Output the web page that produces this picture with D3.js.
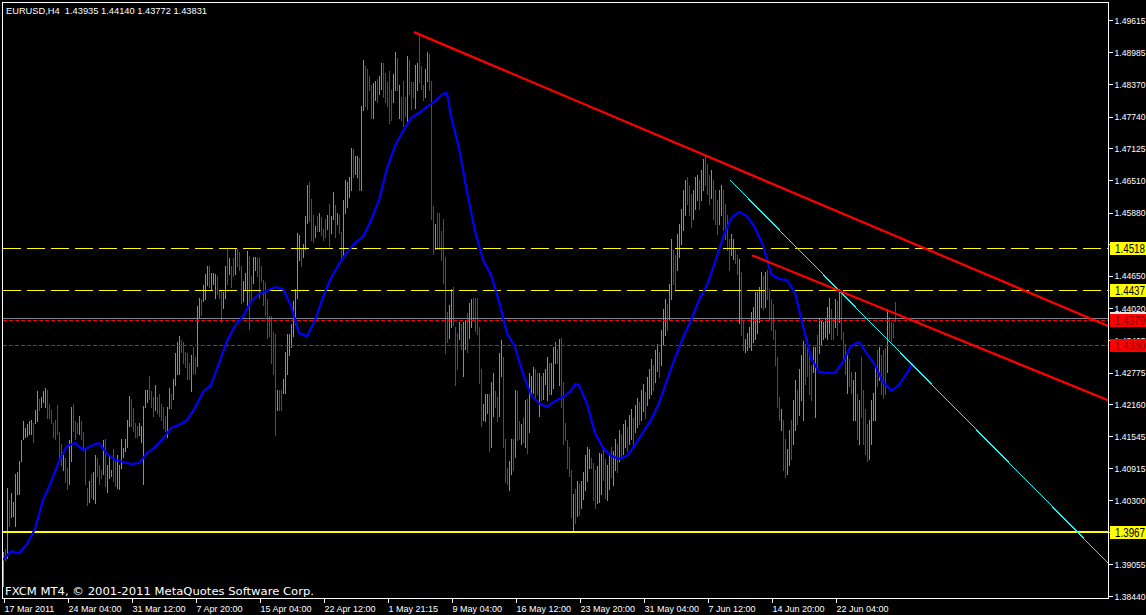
<!DOCTYPE html>
<html><head><meta charset="utf-8">
<script src="https://cdn.jsdelivr.net/npm/d3@7"></script>
<style>html,body{margin:0;padding:0;background:#000;}svg{display:block}</style>
</head><body>
<svg id="chart" width="1146" height="615"></svg>
<script>
// ---------- DATA (EURUSD H4) ----------
const symbolTitle = "EURUSD,H4  1.43935 1.44140 1.43772 1.43831";
const copyright = "FXCM MT4, \u00A9 2001-2011 MetaQuotes Software Corp.";

const highs = [
1.3929,1.3935,1.4053,1.4030,1.4042,1.4026,1.4079,1.4084,1.4105,1.4145,
1.4182,1.4168,1.4176,1.4182,1.4185,1.4178,1.4203,1.4241,1.4226,1.4230,
1.4241,1.4247,1.4243,1.4216,1.4203,1.4178,1.4185,1.4214,1.4162,1.4137,
1.4116,1.4110,1.4092,1.4145,1.4210,1.4216,1.4182,1.4178,1.4193,1.4182,
1.4162,1.4128,1.4053,1.4067,1.4080,1.4084,1.4116,1.4110,1.4098,1.4088,
1.4145,1.4147,1.4098,1.4116,1.4088,1.4128,1.4105,1.4116,1.4098,1.4147,
1.4130,1.4147,1.4185,1.4232,1.4226,1.4207,1.4178,1.4172,1.4178,1.4172,
1.4212,1.4243,1.4243,1.4269,1.4241,1.4230,1.4252,1.4230,1.4234,1.4216,
1.4209,1.4193,1.4209,1.4247,1.4234,1.4265,1.4314,1.4335,1.4348,1.4339,
1.4335,1.4317,1.4314,1.4296,1.4310,1.4327,1.4306,1.4405,1.4421,1.4419,
1.4446,1.4467,1.4484,1.4484,1.4469,1.4469,1.4467,1.4463,1.4436,1.4436,
1.4432,1.4484,1.4517,1.4498,1.4484,1.4498,1.4517,1.4517,1.4511,1.4484,
1.4455,1.4469,1.4513,1.4503,1.4463,1.4500,1.4500,1.4498,1.4500,1.4484,
1.4457,1.4453,1.4419,1.4387,1.4387,1.4356,1.4352,1.4243,1.4243,1.4243,
1.4265,1.4317,1.4352,1.4352,1.4371,1.4415,1.4438,1.4547,1.4543,1.4517,
1.4525,1.4581,1.4641,1.4647,1.4614,1.4583,1.4560,1.4581,1.4587,1.4578,
1.4556,1.4574,1.4583,1.4604,1.4581,1.4626,1.4601,1.4587,1.4583,1.4549,
1.4612,1.4651,1.4647,1.4656,1.4713,1.4711,1.4696,1.4696,1.4692,1.4794,
1.4882,1.4872,1.4865,1.4851,1.4834,1.4838,1.4843,1.4847,1.4851,1.4878,
1.4878,1.4857,1.4841,1.4861,1.4824,1.4855,1.4899,1.4886,1.4834,1.4812,
1.4843,1.4812,1.4890,1.4882,1.4841,1.4841,1.4874,1.4878,1.4934,1.4872,
1.4834,1.4865,1.4899,1.4895,1.4843,1.4599,1.4564,1.4587,1.4587,1.4552,
1.4574,1.4500,1.4394,1.4407,1.4438,1.4442,1.4365,1.4354,1.4375,1.4371,
1.4375,1.4379,1.4393,1.4411,1.4419,1.4421,1.4421,1.4421,1.4365,1.4283,
1.4216,1.4234,1.4234,1.4234,1.4259,1.4275,1.4241,1.4230,1.4314,1.4339,
1.4306,1.4147,1.4092,1.4105,1.4147,1.4147,1.4243,1.4241,1.4182,1.4176,
1.4189,1.4224,1.4226,1.4275,1.4269,1.4287,1.4283,1.4275,1.4275,1.4269,
1.4275,1.4283,1.4306,1.4296,1.4296,1.4327,1.4335,1.4323,1.4341,1.4344,
1.4259,1.4178,1.4145,1.4133,1.4088,1.4040,1.4050,1.4067,1.4061,1.4067,
1.4084,1.4116,1.4133,1.4128,1.4110,1.4102,1.4088,1.4096,1.4120,1.4118,
1.4128,1.4108,1.4098,1.4118,1.4132,1.4124,1.4147,1.4137,1.4166,1.4157,
1.4176,1.4185,1.4170,1.4195,1.4205,1.4189,1.4214,1.4228,1.4220,1.4243,
1.4254,1.4239,1.4267,1.4283,1.4302,1.4292,1.4321,1.4331,1.4317,1.4360,
1.4399,1.4419,1.4409,1.4448,1.4535,1.4515,1.4505,1.4545,1.4564,1.4593,
1.4631,1.4651,1.4655,1.4641,1.4622,1.4631,1.4655,1.4660,1.4651,1.4670,
1.4690,1.4696,1.4681,1.4660,1.4670,1.4651,1.4631,1.4612,1.4631,1.4641,
1.4631,1.4603,1.4583,1.4535,1.4545,1.4535,1.4515,1.4505,1.4496,1.4471,
1.4379,1.4341,1.4354,1.4365,1.4394,1.4403,1.4432,1.4432,1.4442,1.4471,
1.4463,1.4472,1.4476,1.4438,1.4419,1.4409,1.4360,1.4306,1.4230,1.4205,
1.4185,1.4147,1.4128,1.4166,1.4185,1.4224,1.4262,1.4243,1.4283,1.4311,
1.4337,1.4331,1.4341,1.4311,1.4292,1.4327,1.4327,1.4350,1.4383,1.4379,
1.4375,1.4383,1.4403,1.4422,1.4399,1.4383,1.4419,1.4415,1.4438,1.4432,
1.4356,1.4331,1.4315,1.4302,1.4277,1.4263,1.4277,1.4234,1.4224,1.4306,
1.4243,1.4205,1.4176,1.4185,1.4224,1.4237,1.4288,1.4321,1.4327,1.4311,
1.4321,1.4325,1.4399,1.4385,1.4375,1.4373,1.4414];

const lows = [
1.3862,1.3912,1.3916,1.3978,1.3996,1.3999,1.3978,1.4040,1.4040,1.4105,
1.4147,1.4151,1.4153,1.4158,1.4158,1.4141,1.4178,1.4182,1.4203,1.4209,
1.4220,1.4209,1.4189,1.4189,1.4178,1.4151,1.4147,1.4158,1.4110,1.4098,
1.4088,1.4065,1.4050,1.4061,1.4105,1.4164,1.4147,1.4160,1.4158,1.4147,
1.4130,1.4061,1.4019,1.4026,1.4036,1.4032,1.4023,1.4075,1.4061,1.4071,
1.4080,1.4057,1.4044,1.4071,1.4075,1.4067,1.4057,1.4053,1.4050,1.4092,
1.4112,1.4124,1.4133,1.4172,1.4172,1.4164,1.4151,1.4151,1.4155,1.4141,
1.4061,1.4209,1.4220,1.4226,1.4209,1.4193,1.4203,1.4199,1.4193,1.4185,
1.4168,1.4164,1.4151,1.4207,1.4207,1.4226,1.4252,1.4273,1.4273,1.4317,
1.4296,1.4287,1.4265,1.4265,1.4241,1.4275,1.4273,1.4290,1.4383,1.4389,
1.4415,1.4419,1.4446,1.4442,1.4436,1.4449,1.4421,1.4428,1.4421,1.4375,
1.4401,1.4421,1.4449,1.4467,1.4442,1.4463,1.4467,1.4484,1.4476,1.4411,
1.4415,1.4436,1.4407,1.4362,1.4415,1.4451,1.4476,1.4463,1.4421,1.4455,
1.4407,1.4387,1.4344,1.4348,1.4296,1.4273,1.4155,1.4203,1.4203,1.4203,
1.4237,1.4237,1.4273,1.4310,1.4327,1.4348,1.4371,1.4421,1.4494,1.4484,
1.4501,1.4517,1.4566,1.4570,1.4533,1.4530,1.4539,1.4552,1.4552,1.4543,
1.4533,1.4539,1.4556,1.4523,1.4547,1.4574,1.4539,1.4564,1.4547,1.4498,
1.4503,1.4587,1.4597,1.4618,1.4631,1.4656,1.4662,1.4656,1.4630,1.4630,
1.4785,1.4794,1.4788,1.4824,1.4771,1.4771,1.4806,1.4802,1.4816,1.4826,
1.4812,1.4802,1.4794,1.4760,1.4767,1.4802,1.4824,1.4824,1.4771,1.4767,
1.4754,1.4775,1.4760,1.4816,1.4788,1.4812,1.4790,1.4824,1.4841,1.4826,
1.4806,1.4812,1.4843,1.4824,1.4574,1.4507,1.4517,1.4517,1.4517,1.4494,
1.4451,1.4314,1.4335,1.4344,1.4365,1.4369,1.4252,1.4283,1.4341,1.4323,
1.4269,1.4323,1.4317,1.4344,1.4365,1.4379,1.4358,1.4352,1.4257,1.4172,
1.4185,1.4182,1.4199,1.4124,1.4133,1.4193,1.4210,1.4182,1.4193,1.4269,
1.4133,1.4065,1.4061,1.4048,1.4079,1.4088,1.4112,1.4145,1.4147,1.4137,
1.4141,1.4133,1.4120,1.4162,1.4237,1.4237,1.4224,1.4234,1.4193,1.4224,
1.4226,1.4255,1.4224,1.4234,1.4234,1.4247,1.4296,1.4296,1.4252,1.4210,
1.4137,1.4145,1.4092,1.4075,1.3996,1.3971,1.3984,1.3999,1.4001,1.4013,
1.4032,1.4048,1.4067,1.4092,1.4092,1.4030,1.4013,1.4023,1.4026,1.4040,
1.4069,1.4034,1.4030,1.4050,1.4073,1.4059,1.4088,1.4084,1.4104,1.4112,
1.4118,1.4132,1.4124,1.4137,1.4147,1.4137,1.4162,1.4170,1.4176,1.4185,
1.4201,1.4189,1.4214,1.4228,1.4234,1.4243,1.4259,1.4279,1.4267,1.4292,
1.4331,1.4350,1.4360,1.4379,1.4419,1.4448,1.4438,1.4476,1.4500,1.4525,
1.4554,1.4583,1.4603,1.4583,1.4558,1.4574,1.4593,1.4612,1.4593,1.4612,
1.4631,1.4641,1.4622,1.4603,1.4616,1.4574,1.4564,1.4545,1.4564,1.4583,
1.4554,1.4535,1.4515,1.4476,1.4505,1.4496,1.4490,1.4467,1.4373,1.4350,
1.4321,1.4317,1.4321,1.4327,1.4321,1.4335,1.4341,1.4354,1.4375,1.4404,
1.4399,1.4404,1.4419,1.4379,1.4360,1.4341,1.4292,1.4210,1.4185,1.4166,
1.4088,1.4073,1.4079,1.4098,1.4108,1.4137,1.4166,1.4176,1.4195,1.4224,
1.4185,1.4254,1.4269,1.4234,1.4224,1.4277,1.4191,1.4283,1.4315,1.4331,
1.4341,1.4346,1.4341,1.4354,1.4341,1.4341,1.4365,1.4350,1.4375,1.4341,
1.4302,1.4273,1.4237,1.4250,1.4237,1.4185,1.4185,1.4147,1.4137,1.4191,
1.4137,1.4118,1.4104,1.4108,1.4137,1.4185,1.4185,1.4250,1.4263,1.4234,
1.4228,1.4234,1.4277,1.4341,1.4337,1.4346,1.4377];

// U = up bar (close > open), D = down bar
const barDirs = ("UDUDUUUUUU UUUUUDUUDU UUDDDDDDDD UDDUUDDDUD DDDUDUUDDD " +
  "UDUUUDDUUU UUUUDDDDUU UUUDDDUDDD DDUUDUUUUD DDDDUDDUUD " +
  "UUUDUUUDDD UUDUDDUDDD UUUDDUUDDD DDDDDDDUDD UUUUUUUUUD " +
  "UUUDDDUDUD DDUDUUDUDD UUUUUDUUDU UDDDDUUDUU DDDDDUUDUD " +
  "DDUDDDUUDD DUUDDDUDDD DDDUUDDDUD UUDUUDDDDD UUUDUUDDUU " +
  "DDDUUDUDDU DUDUUUDDUD UUUDUUUDUD DDDDDUDUDU UUUUDDDUUU " +
  "DDUUDUUDUD UUDUUDUUDU UDUUUDUUDU UUDUUDDUUU UUDDDUUUDU " +
  "UDDDUDDDUU DDDDUUDDUD DUUUUUUUUU DUDDDDDDDU DDUUDUUDUU " +
  "UDDDDUUDUU UUUUDDUDUD DDUDDUUDUD DDDUUUUDUD DDUDDDD").replace(/ /g, "");

// moving average (blue), bar index -> value
const maIndex = [0,4,8,12,16,20,24,28,32,36,40,44,48,52,56,60,64,68,72,76,80,84,88,92,96,
  100,104,108,112,116,120,124,128,132,136,140,144,148,152,156,160,164,168,172,176,180,184,188,
  192,196,200,204,208,212,216,220,222,224,228,232,236,240,244,248,252,256,260,264,268,272,276,
  280,284,286,288,292,296,300,304,308,312,316,320,324,328,332,336,340,344,348,352,356,360,364,
  368,372,376,380,384,388,392,396,400,404,408,412,416,420,424,428,432,436,440,444,448,452,455];
const maValues = [1.3914,1.3931,1.3927,1.3945,1.3974,1.4030,1.4065,1.4106,1.4135,1.4141,1.4127,
  1.4135,1.4141,1.4120,1.4108,1.4104,1.4100,1.4102,1.4121,1.4133,1.4149,1.4170,1.4176,1.4185,1.4209,
  1.4240,1.4253,1.4296,1.4339,1.4368,1.4387,1.4415,1.4430,1.4436,1.4443,1.4440,1.4407,1.4354,1.4348,
  1.4379,1.4424,1.4461,1.4488,1.4511,1.4529,1.4541,1.4573,1.4612,1.4674,1.4717,1.4746,1.4771,1.4781,
  1.4793,1.4804,1.4818,1.4820,1.4775,1.4713,1.4628,1.4552,1.4496,1.4467,1.4415,1.4354,1.4327,1.4275,
  1.4234,1.4218,1.4211,1.4222,1.4230,1.4242,1.4255,1.4253,1.4217,1.4160,1.4131,1.4116,1.4110,1.4116,
  1.4137,1.4162,1.4185,1.4218,1.4263,1.4306,1.4345,1.4379,1.4418,1.4447,1.4492,1.4539,1.4577,1.4589,
  1.4581,1.4558,1.4525,1.4469,1.4459,1.4457,1.4432,1.4368,1.4306,1.4279,1.4277,1.4277,1.4298,1.4329,
  1.4337,1.4314,1.4292,1.4259,1.4242,1.4253,1.4277,1.4296];

const priceTicks = [1.49615,1.48985,1.48370,1.47740,1.47125,1.46510,1.45880,1.45265,1.44650,
  1.44020,1.43405,1.42775,1.42160,1.41545,1.40915,1.40300,1.39685,1.39055,1.38440];

const timeTickIndex = [0,32,64,96,128,160,192,224,256,288,320,352,384,416];
const timeTickLabels = ["17 Mar 2011","24 Mar 04:00","31 Mar 12:00","7 Apr 20:00","15 Apr 04:00",
  "22 Apr 12:00","1 May 21:15","9 May 04:00","16 May 12:00","23 May 20:00","31 May 04:00",
  "7 Jun 12:00","14 Jun 20:00","22 Jun 04:00"];

const dashedYellowLevels = [1.4518, 1.4437];
const dashedRedLevels = [1.4379, 1.4330];
const solidYellowLevels = [1.3967];
const bidPrice = 1.43831;

// trend lines: [startIndex, startPrice, endIndex, endPrice]
const redTrendLines = [[205.5, 1.4938, 552.5, 1.4368], [374.5, 1.4505, 552.5, 1.4224]];
const cyanTrendLines = [[363.5, 1.4651, 552.5, 1.3908]];

// ---------- DRAWING ----------
const W = 1146, H = 615;
const L = 2, R = 1108, T = 2, B = 598;
const UP = "#33cc33", DOWN = "#dd1111";
const FONT = "'Liberation Sans', Arial, sans-serif";

const svg = d3.select("#chart");
svg.append("rect").attr("width", W).attr("height", H).attr("fill", "#000");

const x = d3.scaleLinear().domain([0, 552.5]).range([3, R]);
const y = d3.scaleLinear().domain([1.3844, 1.49615]).range([596, 20]);
const px = v => Math.round(x(v)) + 0.5;
const py = v => Math.floor(y(v)) + 0.5;

svg.append("defs").append("clipPath").attr("id", "clip")
  .append("rect").attr("x", L).attr("y", T).attr("width", R - L).attr("height", B - T);
const plot = svg.append("g").attr("clip-path", "url(#clip)");

// bars
const bars = highs.map((h, i) => ({ i, h, l: lows[i], up: barDirs[i] === "U" }));
plot.append("g").attr("shape-rendering", "crispEdges")
  .selectAll("line").data(bars).join("line")
  .attr("x1", d => px(d.i)).attr("x2", d => px(d.i))
  .attr("y1", d => Math.floor(y(d.h))).attr("y2", d => Math.floor(y(d.l)) + 1)
  .attr("stroke", d => d.up ? UP : DOWN).attr("stroke-width", 1);

// bid line
plot.append("line").attr("x1", L).attr("x2", R)
  .attr("y1", py(bidPrice)).attr("y2", py(bidPrice))
  .attr("stroke", "#778899").attr("stroke-width", 1).attr("shape-rendering", "crispEdges");

// horizontal levels
plot.selectAll("line.dy").data(dashedYellowLevels).join("line").attr("class", "dy")
  .attr("x1", 3).attr("x2", R).attr("y1", d => py(d)).attr("y2", d => py(d))
  .attr("stroke", "#ffff00").attr("stroke-width", 1).attr("stroke-dasharray", "18,6")
  .attr("shape-rendering", "crispEdges");
plot.selectAll("line.dr").data(dashedRedLevels).join("line").attr("class", "dr")
  .attr("x1", 3).attr("x2", R).attr("y1", d => py(d)).attr("y2", d => py(d))
  .attr("stroke", "#ff0000").attr("stroke-width", 1).attr("stroke-dasharray", "4,2")
  .attr("shape-rendering", "crispEdges");
plot.selectAll("line.sy").data(solidYellowLevels).join("line").attr("class", "sy")
  .attr("x1", L).attr("x2", R).attr("y1", d => Math.floor(y(d))).attr("y2", d => Math.floor(y(d)))
  .attr("stroke", "#ffff00").attr("stroke-width", 2).attr("shape-rendering", "crispEdges");

// moving average
const maLine = d3.line().x((d, k) => x(maIndex[k])).y(d => y(d));
plot.append("path").attr("d", maLine(maValues)).attr("fill", "none")
  .attr("stroke", "#0000ff").attr("stroke-width", 2.2).attr("stroke-linejoin", "round");

// trend lines
plot.selectAll("line.tc").data(cyanTrendLines).join("line").attr("class", "tc")
  .attr("x1", d => x(d[0])).attr("y1", d => y(d[1])).attr("x2", d => x(d[2])).attr("y2", d => y(d[3]))
  .attr("stroke", "#00ffff").attr("stroke-width", 1).attr("shape-rendering", "crispEdges");
plot.selectAll("line.tr").data(redTrendLines).join("line").attr("class", "tr")
  .attr("x1", d => x(d[0])).attr("y1", d => y(d[1])).attr("x2", d => x(d[2])).attr("y2", d => y(d[3]))
  .attr("stroke", "#ff0000").attr("stroke-width", 2.2);

// frame
const frame = svg.append("g").attr("shape-rendering", "crispEdges").attr("stroke", "#fff").attr("stroke-width", 1);
frame.append("line").attr("x1", L + 0.5).attr("x2", L + 0.5).attr("y1", T).attr("y2", B + 1);
frame.append("line").attr("x1", L).attr("x2", R + 1).attr("y1", T + 0.5).attr("y2", T + 0.5);
frame.append("line").attr("x1", R + 0.5).attr("x2", R + 0.5).attr("y1", T).attr("y2", B + 1);
frame.append("line").attr("x1", L).attr("x2", R + 1).attr("y1", B + 0.5).attr("y2", B + 0.5);

// price axis
const yAxis = d3.axisRight(y).tickValues(priceTicks).tickSize(4).tickPadding(2)
  .tickFormat(d3.format(".5f"));
const ya = svg.append("g").attr("transform", `translate(${R + 0.5},0)`).call(yAxis);
ya.select(".domain").remove();
ya.selectAll("line").attr("stroke", "#fff").attr("shape-rendering", "crispEdges");
ya.selectAll("text").attr("fill", "#fff").style("font", `9.5px ${FONT}`)
  .attr("textLength", 31).attr("lengthAdjust", "spacingAndGlyphs");

// time axis
const xAxis = d3.axisBottom(x).tickValues(timeTickIndex).tickSize(4).tickPadding(3)
  .tickFormat((d, k) => timeTickLabels[k]);
const xa = svg.append("g").attr("transform", `translate(0,${B + 0.5})`).call(xAxis);
xa.select(".domain").remove();
xa.selectAll("line").attr("stroke", "#fff").attr("shape-rendering", "crispEdges")
  .attr("transform", "translate(0.5,0)");
xa.selectAll("text").attr("fill", "#fff").attr("text-anchor", "start").attr("x", 1)
  .style("font", `9px ${FONT}`);

// price labels on the right
const labelDefs = [
  { v: bidPrice, text: "1.43831", bg: "#e8e8e8", fg: "#000" },
  ...dashedYellowLevels.map(v => ({ v, text: v.toFixed(4), bg: "#ffff00", fg: "#000" })),
  ...solidYellowLevels.map(v => ({ v, text: v.toFixed(4), bg: "#ffff00", fg: "#000" })),
  ...dashedRedLevels.map(v => ({ v, text: v.toFixed(4), bg: "#ff0000", fg: "#900000" }))
];
const lab = svg.append("g").selectAll("g").data(labelDefs).join("g")
  .attr("transform", d => `translate(${R + 2},${Math.floor(y(d.v))})`);
lab.append("rect").attr("x", 0).attr("y", -6).attr("width", W - R - 2).attr("height", 13)
  .attr("fill", d => d.bg);
lab.append("text").attr("x", 5).attr("y", 5).attr("fill", d => d.fg)
  .style("font", `12px ${FONT}`).attr("textLength", 30).attr("lengthAdjust", "spacingAndGlyphs")
  .text(d => d.text);

// title & copyright
svg.append("text").attr("x", 6).attr("y", 14).attr("fill", "#fff")
  .style("font", `9.5px ${FONT}`).style("white-space", "pre")
  .attr("textLength", 201).attr("lengthAdjust", "spacingAndGlyphs").text(symbolTitle);
svg.append("text").attr("x", 5).attr("y", 595).attr("fill", "#fff")
  .style("font", "11px 'DejaVu Sans', sans-serif")
  .attr("textLength", 309).attr("lengthAdjust", "spacingAndGlyphs").text(copyright);
</script>
</body></html>
